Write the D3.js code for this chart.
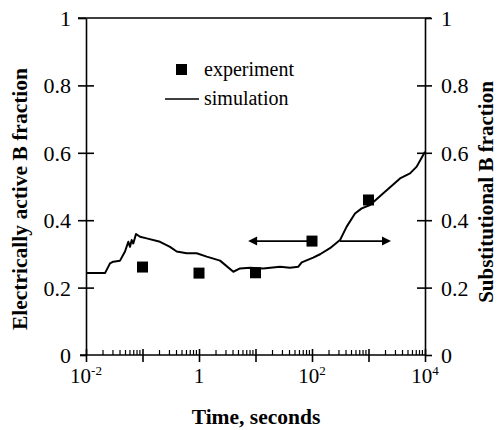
<!DOCTYPE html>
<html>
<head>
<meta charset="utf-8">
<script src="https://cdn.jsdelivr.net/npm/d3@7"></script>
<style>
  html, body { margin: 0; padding: 0; background: #fff; }
  svg { display: block; }
  text { font-family: "Liberation Serif", "Times New Roman", serif; fill: #000; }
</style>
</head>
<body>
<svg id="chart" width="498" height="430"></svg>
<script>
// ---- data ----
const simTime = [0.01, 0.0217, 0.0266, 0.0304, 0.040, 0.049, 0.0561, 0.0601, 0.0644, 0.0687, 0.0767, 0.0904, 0.1186, 0.204, 0.307, 0.403, 0.605, 0.910, 1.37, 2.36, 4.05, 5.32, 8.0, 13.7, 27.2, 40.8, 57.3, 65.8, 105, 139, 208, 313, 411, 577, 759, 1064, 1828, 3614, 5433, 7129, 9333, 10000];
const simValue = [0.243, 0.243, 0.272, 0.277, 0.280, 0.307, 0.336, 0.321, 0.341, 0.331, 0.359, 0.351, 0.346, 0.336, 0.321, 0.307, 0.302, 0.302, 0.292, 0.280, 0.247, 0.257, 0.259, 0.257, 0.262, 0.259, 0.262, 0.275, 0.289, 0.299, 0.317, 0.341, 0.381, 0.420, 0.435, 0.445, 0.480, 0.524, 0.539, 0.559, 0.594, 0.603];
const expTime = [0.1, 1, 10, 100, 1000];
const expValue = [0.261, 0.243, 0.244, 0.338, 0.460];
const arrowFrom = [100, 313];
const arrowTo = [7.4, 2500];
const arrowValue = [0.338, 0.338];
const yTicks = [0, 0.2, 0.4, 0.6, 0.8, 1];
const yTickLabels = ["0", "0.2", "0.4", "0.6", "0.8", "1"];
const xMajor = [0.01, 0.1, 1, 10, 100, 1000, 10000];
const xLabelValues = [0.01, 1, 100, 10000];
const xLabelBase = ["10", "1", "10", "10"];
const xLabelExp = ["-2", "", "2", "4"];
const legendLabels = ["experiment", "simulation"];

// ---- layout ----
const svg = d3.select("#chart");
const x = d3.scaleLog().domain([0.01, 10000]).range([86, 425]);
const y = d3.scaleLinear().domain([0, 1]).range([355, 18]);
const AX = 1.6;

// minor ticks on x
const minor = [];
for (let e = -2; e < 4; e++) for (let m = 2; m <= 9; m++) minor.push(m * Math.pow(10, e));

// x axis
const gx = svg.append("g").attr("transform", `translate(0,${y(0)})`)
  .call(d3.axisBottom(x).tickValues(xMajor).tickFormat("").tickSizeInner(7).tickSizeOuter(0));
gx.select(".domain").attr("stroke", "#000").attr("stroke-width", AX).attr("d", `M80,0H${x(10000)}`);
gx.selectAll(".tick line").attr("stroke", "#000").attr("stroke-width", AX).attr("y1", -6).attr("y2", 7);
gx.selectAll(".minor").data(minor).enter().append("line")
  .attr("class", "minor")
  .attr("x1", d => x(d)).attr("x2", d => x(d))
  .attr("y1", 0).attr("y2", -5)
  .attr("stroke", "#000").attr("stroke-width", 1.2);
const xl = gx.selectAll(".xlab").data(xLabelValues).enter().append("text")
  .attr("class", "xlab")
  .attr("x", d => x(d)).attr("y", 28)
  .attr("text-anchor", "middle")
  .style("font-size", "21px");
xl.append("tspan").text((d, i) => xLabelBase[i]);
xl.append("tspan").text((d, i) => xLabelExp[i]).attr("dy", -8).style("font-size", "13px");

// left axis
const gl = svg.append("g").attr("transform", `translate(${x(0.01)},0)`)
  .call(d3.axisLeft(y).tickValues(yTicks).tickFormat((d, i) => yTickLabels[i]).tickSizeInner(8).tickSizeOuter(0).tickPadding(7));
gl.select(".domain").attr("stroke", "#000").attr("stroke-width", AX);
gl.selectAll(".tick line").attr("stroke", "#000").attr("stroke-width", AX)
  .attr("x1", d => (d > 0 && d < 1) ? 8 : 0).attr("x2", d => d === 0 ? -6 : -8);
gl.selectAll(".tick text").style("font-size", "22px").attr("dy", "0.34em");

// right axis
const gr = svg.append("g").attr("transform", `translate(${x(10000)},0)`)
  .call(d3.axisRight(y).tickValues(yTicks).tickFormat((d, i) => yTickLabels[i]).tickSizeInner(7).tickSizeOuter(0).tickPadding(9));
gr.select(".domain").attr("stroke", "#000").attr("stroke-width", AX);
gr.selectAll(".tick line").attr("stroke", "#000").attr("stroke-width", AX)
  .attr("x1", d => (d > 0 && d < 1) ? -8 : 0).attr("x2", 7);
gr.selectAll(".tick text").style("font-size", "22px").attr("dy", "0.34em");

// top border
svg.append("line").attr("x1", 78).attr("x2", x(10000) + 6)
  .attr("y1", y(1)).attr("y2", y(1)).attr("stroke", "#000").attr("stroke-width", AX);

// simulation line
const simData = simTime.map((t, i) => [t, simValue[i]]);
svg.append("path").datum(simData)
  .attr("fill", "none").attr("stroke", "#000").attr("stroke-width", 2).attr("stroke-linejoin", "round")
  .attr("d", d3.line().x(d => x(d[0])).y(d => y(d[1])));

// experiment squares
const S = 11;
svg.selectAll(".exp").data(expTime).enter().append("rect")
  .attr("x", d => x(d) - S / 2).attr("y", (d, i) => y(expValue[i]) - S / 2)
  .attr("width", S).attr("height", S).attr("fill", "#000");

// arrows
arrowFrom.forEach((f, i) => {
  const x0 = x(f), x1 = x(arrowTo[i]), yy = y(arrowValue[i]);
  const dir = x1 > x0 ? 1 : -1;
  svg.append("line").attr("x1", x0).attr("x2", x1 - dir * 6).attr("y1", yy).attr("y2", yy)
    .attr("stroke", "#000").attr("stroke-width", 1.6);
  svg.append("path")
    .attr("d", `M${x1},${yy}L${x1 - dir * 9},${yy - 4.5}L${x1 - dir * 9},${yy + 4.5}Z`)
    .attr("fill", "#000");
});

// legend
svg.append("rect").attr("x", 176).attr("y", 64).attr("width", 11).attr("height", 11).attr("fill", "#000");
svg.append("text").attr("x", 204).attr("y", 76).style("font-size", "20px").text(legendLabels[0]);
svg.append("line").attr("x1", 165).attr("x2", 199).attr("y1", 99).attr("y2", 99)
  .attr("stroke", "#000").attr("stroke-width", 1.6);
svg.append("text").attr("x", 204).attr("y", 105).style("font-size", "20px").text(legendLabels[1]);

// axis titles
svg.append("text").attr("x", 256).attr("y", 424).attr("text-anchor", "middle")
  .style("font-size", "21.5px").style("font-weight", "bold").text("Time, seconds");
svg.append("text").attr("transform", "translate(27,199) rotate(-90)").attr("text-anchor", "middle")
  .style("font-size", "21.5px").style("font-weight", "bold").text("Electrically active B fraction");
svg.append("text").attr("transform", "translate(493,192) rotate(-90)").attr("text-anchor", "middle")
  .style("font-size", "21px").style("font-weight", "bold").text("Substitutional B fraction");
</script>
</body>
</html>
